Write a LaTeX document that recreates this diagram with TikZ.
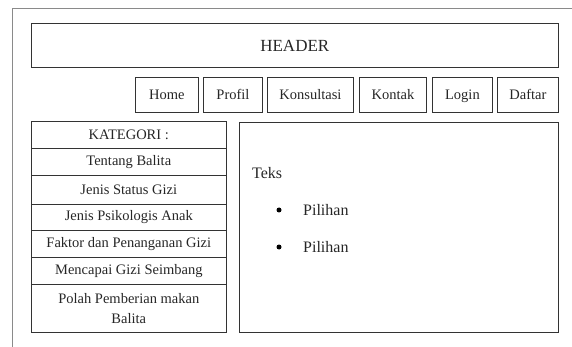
\documentclass[tikz,border=0pt]{standalone}
\usepackage{fontspec}
\setmainfont{Liberation Serif}
\definecolor{linec}{HTML}{333333}
\definecolor{framec}{HTML}{8A8A8A}
\tikzset{
  box/.style={draw=linec, line width=0.9pt, anchor=north west, inner sep=0pt, align=center, text=black!85},
  navbox/.style={box, font=\fontsize{14.5}{16}\selectfont, text height=2.1ex, text depth=0.3ex},
  sidebox/.style={box, font=\fontsize{14.5}{20}\selectfont, minimum width=194.7pt},
  bodytext/.style={anchor=west, inner sep=0pt, font=\fontsize{16}{18}\selectfont, text=black!85},
  dot/.style={circle, fill=black, inner sep=0pt, minimum size=5pt}
}
\begin{document}
\begin{tikzpicture}[x=1pt,y=-1pt]
\useasboundingbox (0,0) rectangle (572,347);
% outer frame (only top and left edges visible)
\coordinate (fbl) at (12.7,347);
\coordinate (ftl) at (12.7,8.3);
\coordinate (ftr) at (572,8.3);
\draw[framec, line width=1.2pt] (fbl) -- (ftl) -- (ftr);
% header
\node[box, minimum width=527.3pt, minimum height=43.4pt, font=\fontsize{17}{20}\selectfont] (header) at (30.7,23.3) {HEADER};
% navigation
\node[navbox, minimum width=63pt, minimum height=35pt] (home) at (135,77) {Home};
\node[navbox, minimum width=59pt, minimum height=35pt] (profil) at (203,77) {Profil};
\node[navbox, minimum width=86pt, minimum height=35pt] (konsultasi) at (267,77) {Konsultasi};
\node[navbox, minimum width=67pt, minimum height=35pt] (kontak) at (359,77) {Kontak};
\node[navbox, minimum width=60pt, minimum height=35pt] (login) at (432,77) {Login};
\node[navbox, minimum width=61pt, minimum height=35pt] (daftar) at (497,77) {Daftar};
% sidebar
\node[sidebox, minimum height=27.6pt] (kat) at (31,120.7) {KATEGORI :};
\node[sidebox, minimum height=26.7pt] (s1) at (31,148.3) {Tentang Balita};
\node[sidebox, minimum height=29pt] (s2) at (31,175) {Jenis Status Gizi};
\node[sidebox, minimum height=26pt] (s3) at (31,204) {Jenis Psikologis Anak};
\node[sidebox, minimum height=26.7pt] (s4) at (31,230) {Faktor dan Penanganan Gizi};
\node[sidebox, minimum height=27.6pt] (s5) at (31,256.7) {Mencapai Gizi Seimbang};
\node[sidebox, minimum height=47.4pt] (s6) at (31,284.3) {Polah Pemberian makan\\Balita};
% content
\node[box, minimum width=319pt, minimum height=210pt] (content) at (239,122) {};
\node[bodytext] (teks) at (252,173) {Teks};
\node[dot] (b1) at (279,210) {};
\node[bodytext] (p1) at (303,210) {Pilihan};
\node[dot] (b2) at (279,247) {};
\node[bodytext] (p2) at (303,247) {Pilihan};
\end{tikzpicture}
\end{document}
